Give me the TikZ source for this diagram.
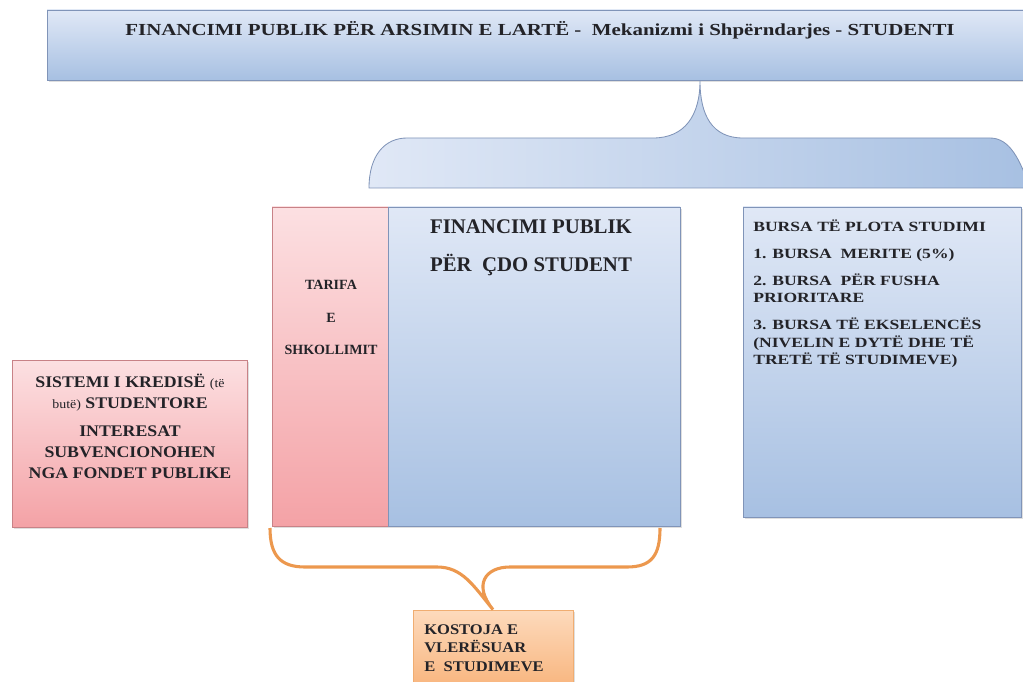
\documentclass[tikz,border=0pt]{standalone}
\usepackage{fontspec}
\setmainfont{Liberation Serif}
\usetikzlibrary{fit,shadows}
\definecolor{bluclar}{RGB}{224,232,246}
\definecolor{bluerret}{RGB}{167,192,226}
\definecolor{blukufi}{RGB}{128,148,184}
\definecolor{rozclar}{RGB}{252,224,226}
\definecolor{rozerret}{RGB}{244,162,166}
\definecolor{rozkufi}{RGB}{200,130,135}
\definecolor{portclar}{RGB}{253,218,188}
\definecolor{porterret}{RGB}{248,180,124}
\definecolor{portvije}{RGB}{236,152,78}
\definecolor{tekst}{RGB}{35,35,40}

\begin{document}
\begin{tikzpicture}[x=0.025cm,y=-0.025cm,
	kuti/.style={inner sep=0pt,line width=0.6pt,drop shadow={opacity=0.25,shadow xshift=1.2pt,shadow yshift=-1.2pt}},
	kutiblu/.style={kuti,draw=blukufi,top color=bluclar,bottom color=bluerret},
	kutiroz/.style={kuti,draw=rozkufi,top color=rozclar,bottom color=rozerret},
	shkrim/.style={inner sep=0pt,text=tekst,font=\bfseries}]
	\useasboundingbox (0,0) rectangle (1023,682);
	% Titulli %
	\node[kutiblu,fit={(47,10) (1040,80)}] (titulli) {};
	\node[shkrim,font=\bfseries\fontsize{12}{14}\selectfont] (tekstTitulli) at (540,30)
		{\scalebox{1.24}[1]{FINANCIMI PUBLIK PËR ARSIMIN E LARTË -\ \ Mekanizmi i Shpërndarjes - STUDENTI}};
	% Kllapa blu %
	\coordinate (maja) at (700,81);
	\shade[left color=bluclar,right color=bluerret,draw=blukufi,line width=0.6pt]
		(369,188) .. controls (369,155) and (385,138) .. (407,138) -- (653,138)
		.. controls (685,138) and (700,115) .. (maja)
		.. controls (700,115) and (712,138) .. (743,138) -- (990,138)
		.. controls (1010,138) and (1020,160) .. (1030,188) -- cycle;
	% Tarifa e shkollimit %
	\node[kutiroz,fit={(272,207) (388,526)}] (tarifa) {};
	\node[shkrim,font=\bfseries\fontsize{10}{12}\selectfont] (tTarifa) at (331,285) {TARIFA};
	\node[shkrim,font=\bfseries\fontsize{10}{12}\selectfont] (tE) at (331,318) {E};
	\node[shkrim,font=\bfseries\fontsize{10}{12}\selectfont] (tShkollimit) at (331,350) {SHKOLLIMIT};
	% Financimi publik %
	\node[kutiblu,fit={(388,207) (680,526)}] (financimi) {};
	\node[shkrim,font=\bfseries\fontsize{14.8}{17}\selectfont] (tFinancimi) at (531,227) {FINANCIMI PUBLIK};
	\node[shkrim,font=\bfseries\fontsize{14.8}{17}\selectfont] (tStudent) at (531,265) {PËR\ \ ÇDO STUDENT};
	% Bursat %
	\node[kutiblu,fit={(743,207) (1021,517)}] (bursat) {};
	\node[shkrim,anchor=north west,align=left,font=\bfseries\fontsize{10}{12.4}\selectfont] (tBursat) at (753,219)
		{\scalebox{1.25}[1]{\begin{tabular}{@{}l@{}}BURSA TË PLOTA STUDIMI\\[6.8pt]
		 1. BURSA\ \ MERITE (5\%)\\[6.8pt]
		 2. BURSA\ \ PËR FUSHA\\PRIORITARE\\[6.8pt]
		 3. BURSA TË EKSELENCËS\\(NIVELIN E DYTË DHE TË\\TRETË TË STUDIMEVE)\end{tabular}}};
	% Sistemi i kredise %
	\node[kutiroz,fit={(12,360) (247,527)}] (kredia) {};
	\node[shkrim,font=\bfseries\fontsize{11.5}{15}\selectfont] (tKredia) at (130,429)
		{\scalebox{1.1}[1]{\begin{tabular}{@{}c@{}}SISTEMI I KREDISË {\mdseries\fontsize{9}{10}\selectfont(të}\\{\mdseries\fontsize{9}{10}\selectfont butë)} STUDENTORE\\[5pt]
		 INTERESAT\\SUBVENCIONOHEN\\NGA FONDET PUBLIKE\end{tabular}}};
	% Kostoja %
	\node[kuti,draw=portvije!80,top color=portclar,bottom color=porterret,fit={(413,610) (573,690)}] (kostoja) {};
	\node[shkrim,anchor=north west,font=\bfseries\fontsize{10.5}{13.2}\selectfont] (tKostoja) at (424,621)
		{\scalebox{1.12}[1]{\begin{tabular}{@{}l@{}}KOSTOJA E\\VLERËSUAR\\E\ \ STUDIMEVE\end{tabular}}};
	% Kllapa portokalli %
	\coordinate (fillimi) at (270,528);
	\coordinate (fundi) at (660,528);
	\draw[portvije,line width=2.2pt]
		(fillimi) .. controls (270,555) and (280,567) .. (305,567) -- (437,567)
		.. controls (462,567) and (473,585) .. (kostoja.north)
		.. controls (473,585) and (485,567) .. (510,567) -- (627,567)
		.. controls (652,567) and (660,555) .. (fundi);
\end{tikzpicture}
\end{document}
